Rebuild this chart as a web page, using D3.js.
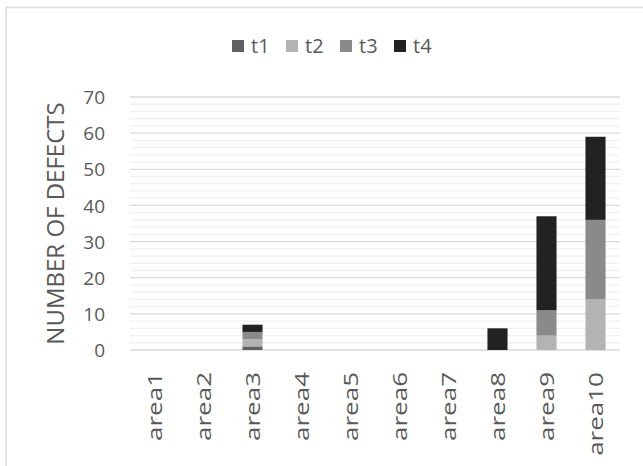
<!DOCTYPE html>
<html>
<head>
<meta charset="utf-8">
<script src="https://cdn.jsdelivr.net/npm/d3@7"></script>
<style>
  body { margin: 0; background: #fff; }
  text { font-family: "Open Sans", "Liberation Sans", sans-serif; fill: #595959; }
</style>
</head>
<body>
<svg id="chart"></svg>
<script>
// Dades
var areas = ["area1", "area2", "area3", "area4", "area5", "area6", "area7", "area8", "area9", "area10"];
var seriesNames = ["t1", "t2", "t3", "t4"];
var t1 = [0, 0, 1, 0, 0, 0, 0, 0, 0, 0];
var t2 = [0, 0, 2, 0, 0, 0, 0, 0, 4, 14];
var t3 = [0, 0, 2, 0, 0, 0, 0, 0, 7, 22];
var t4 = [0, 0, 2, 0, 0, 0, 0, 6, 26, 23];
var yTicks = [0, 10, 20, 30, 40, 50, 60, 70];
var colors = ["#606060", "#b3b3b3", "#8a8a8a", "#222222"];

var width = 643, height = 466;
var margin = { left: 130, right: 23, top: 97, bottom: 116 };

var svg = d3.select("#chart").attr("width", width).attr("height", height);

// Vora del gràfic
svg.append("rect")
  .attr("x", 6).attr("y", 7.5)
  .attr("width", 700).attr("height", 600)
  .attr("fill", "none").attr("stroke", "#d9d9d9").attr("stroke-width", 1.5);

var x = d3.scaleBand().domain(areas).range([margin.left, width - margin.right]).paddingInner(0.59).paddingOuter(0.295);
var y = d3.scaleLinear().domain([0, 70]).range([height - margin.bottom, margin.top]);

// Línies de quadrícula menors i majors
var g = svg.append("g");
g.selectAll(".minor")
  .data(d3.range(0, 71, 2).filter(v => v % 10 !== 0))
  .enter().append("line")
  .attr("x1", margin.left).attr("x2", width - margin.right)
  .attr("y1", d => y(d)).attr("y2", d => y(d))
  .attr("stroke", "#f0f0f0").attr("stroke-width", 1.3);
g.selectAll(".major")
  .data(yTicks)
  .enter().append("line")
  .attr("x1", margin.left).attr("x2", width - margin.right)
  .attr("y1", d => y(d)).attr("y2", d => y(d))
  .attr("stroke", "#d9d9d9").attr("stroke-width", 1.3);

// Pila de dades
var table = areas.map((a, i) => ({ area: a, t1: t1[i], t2: t2[i], t3: t3[i], t4: t4[i] }));
var stacked = d3.stack().keys(seriesNames)(table);

svg.append("g").selectAll("g")
  .data(stacked)
  .enter().append("g")
  .attr("fill", (d, i) => colors[i])
  .selectAll("rect")
  .data(d => d)
  .enter().append("rect")
  .attr("x", d => x(d.data.area))
  .attr("width", x.bandwidth())
  .attr("y", d => y(d[1]))
  .attr("height", d => y(d[0]) - y(d[1]));

// Eix Y
var yAxis = svg.append("g")
  .attr("transform", "translate(" + (margin.left - 22) + ",0)")
  .call(d3.axisLeft(y).tickValues(yTicks).tickSize(0));
yAxis.select(".domain").remove();
yAxis.selectAll("text").style("font-size", "19px").attr("dy", "0.35em");

// Eix X (etiquetes girades i una mica allargades com a l'original)
var stretch = 1.3;
var xAxis = svg.append("g")
  .attr("transform", "translate(0," + (height - margin.bottom) + ")")
  .call(d3.axisBottom(x).tickSize(0));
xAxis.select(".domain").remove();
xAxis.selectAll("text")
  .style("font-size", "20px")
  .attr("text-anchor", "end")
  .attr("transform", "rotate(-90) scale(" + stretch + ",1)")
  .attr("x", -22 / stretch).attr("y", 0).attr("dy", "0.35em");

// Títol de l'eix Y
svg.append("text")
  .attr("transform", "translate(64," + y(35) + ") rotate(-90)")
  .attr("text-anchor", "middle")
  .style("font-size", "24px")
  .text("NUMBER OF DEFECTS");

// Llegenda
var legend = svg.append("g").selectAll("g")
  .data(seriesNames)
  .enter().append("g")
  .attr("transform", (d, i) => "translate(" + (232 + i * 54) + ",40)");
legend.append("rect").attr("width", 12).attr("height", 12).attr("fill", (d, i) => colors[i]);
legend.append("text").attr("x", 19).attr("y", 6).attr("dy", "0.35em").style("font-size", "20px").text(d => d);
</script>
</body>
</html>
